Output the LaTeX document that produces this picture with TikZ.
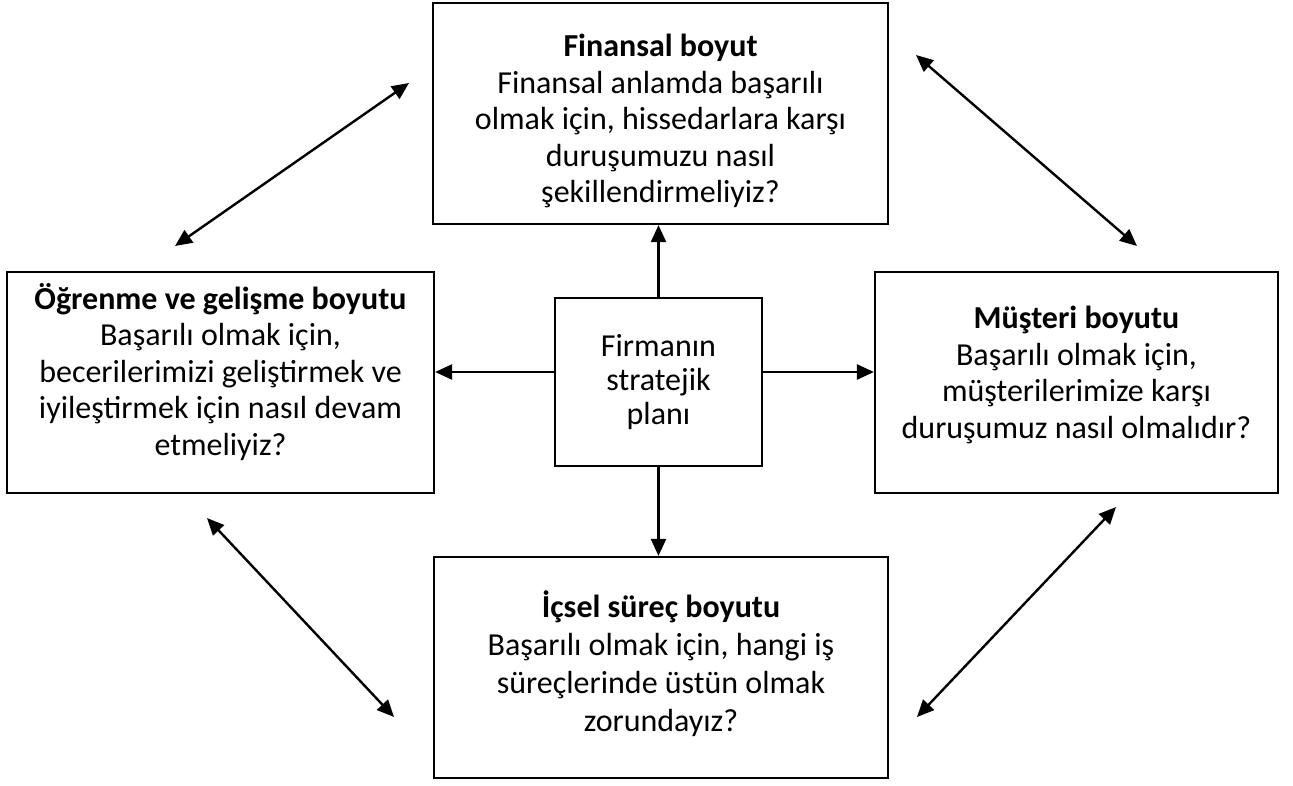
\documentclass[tikz,border=0pt]{standalone}
\usepackage{fontspec}
\setmainfont{Carlito}
\usetikzlibrary{arrows.meta}
\begin{document}
\begin{tikzpicture}[x=1pt,y=-1pt,
  box/.style={draw, line width=2.2pt, inner sep=0pt},
  txt/.style={align=center, inner sep=0pt, font=\fontsize{32}{36.5}\selectfont},
  link/.style={line width=2.4pt, -{Triangle[length=17pt,width=15pt]}},
  twoway/.style={line width=2.4pt,
    {Triangle[length=17pt,width=15pt]}-{Triangle[length=17pt,width=15pt]}}]
\useasboundingbox (0,0) rectangle (1293,785);

% frames of the five boxes
\node[box, minimum width=455pt, minimum height=221pt] (fin)  at (660.5,113.5) {};
\node[box, minimum width=427pt, minimum height=221pt] (ogr)  at (220.5,382.5) {};
\node[box, minimum width=207pt, minimum height=168pt] (plan) at (658.5,382) {};
\node[box, minimum width=403pt, minimum height=221pt] (mus)  at (1076.5,382.5) {};
\node[box, minimum width=454pt, minimum height=221pt] (ics)  at (661,667.5) {};

% their texts
\node[txt] (fin-t) at (660.5,121)
  {\textbf{Finansal boyut}\\Finansal anlamda başarılı\\olmak için, hissedarlara karşı\\duruşumuzu nasıl\\şekillendirmeliyiz?};
\node[txt] (ogr-t) at (220.5,372)
  {\textbf{Öğrenme ve gelişme boyutu}\\Başarılı olmak için,\\becerilerimizi geliştirmek ve\\iyileştirmek için nasıl devam\\etmeliyiz?};
\node[txt, font=\fontsize{32}{34}\selectfont] (plan-t) at (658.5,382)
  {Firmanın\\stratejik\\planı};
\node[txt] (mus-t) at (1076.5,375)
  {\textbf{Müşteri boyutu}\\Başarılı olmak için,\\müşterilerimize karşı\\duruşumuz nasıl olmalıdır?};
\node[txt, font=\fontsize{32}{38}\selectfont] (ics-t) at (661,664)
  {\textbf{İçsel süreç boyutu}\\Başarılı olmak için, hangi iş\\süreçlerinde üstün olmak\\zorundayız?};

% the plan feeds every perspective
\draw[link] (plan.north) -- (plan.north |- fin.south);
\draw[link] (plan.south) -- (plan.south |- ics.north);
\draw[link] ([yshift=10pt]plan.west) -- ([yshift=10pt]plan.west -| ogr.east);
\draw[link] ([yshift=10pt]plan.east) -- ([yshift=10pt]plan.east -| mus.west);

% links between neighbouring perspectives
\coordinate (tl1) at (175,246);  \coordinate (tl2) at (409,83);
\coordinate (tr1) at (916,55);   \coordinate (tr2) at (1137,246);
\coordinate (bl1) at (207,518);  \coordinate (bl2) at (394,717);
\coordinate (br1) at (917,717);  \coordinate (br2) at (1116,507);
\draw[twoway] (tl1) -- (tl2);
\draw[twoway] (tr1) -- (tr2);
\draw[twoway] (bl1) -- (bl2);
\draw[twoway] (br1) -- (br2);
\end{tikzpicture}
\end{document}
